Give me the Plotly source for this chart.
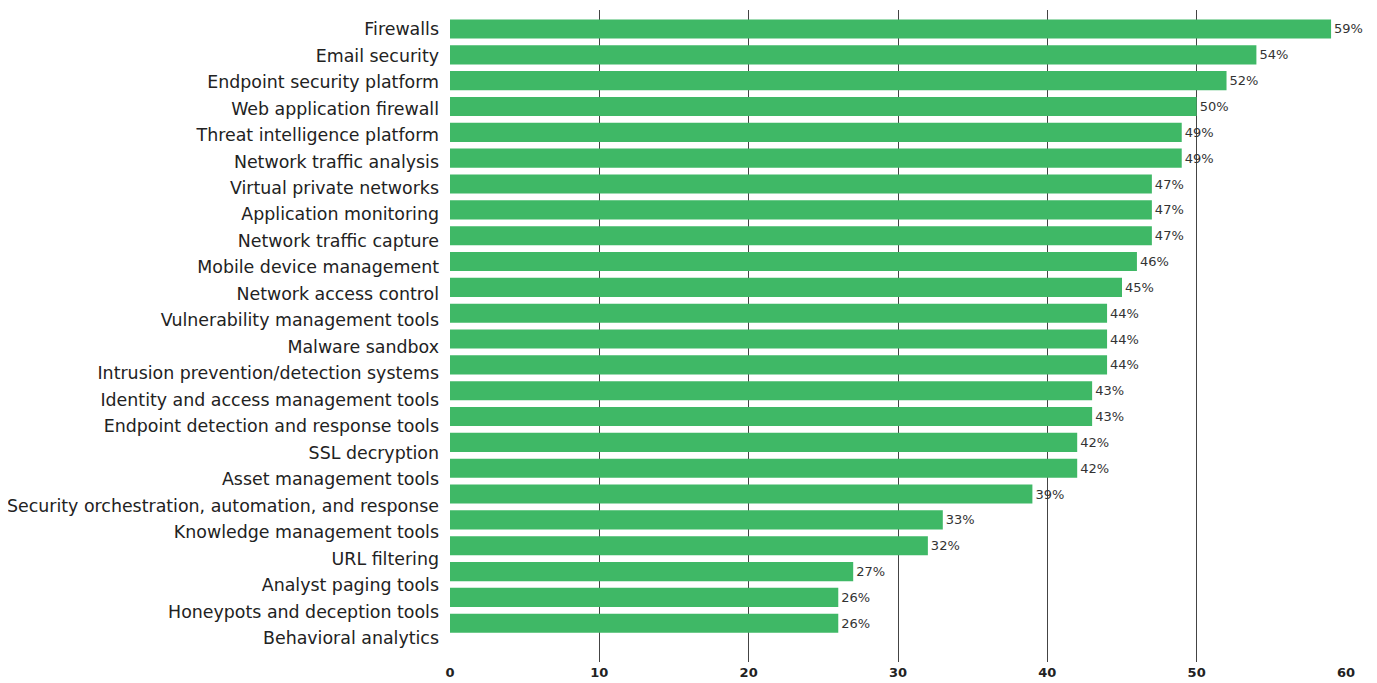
import plotly.graph_objects as go

categories = [
    "Firewalls", "Email security", "Endpoint security platform", "Web application firewall",
    "Threat intelligence platform", "Network traffic analysis", "Virtual private networks",
    "Application monitoring", "Network traffic capture", "Mobile device management",
    "Network access control", "Vulnerability management tools", "Malware sandbox",
    "Intrusion prevention/detection systems", "Identity and access management tools",
    "Endpoint detection and response tools", "SSL decryption", "Asset management tools",
    "Security orchestration, automation, and response", "Knowledge management tools",
    "URL filtering", "Analyst paging tools", "Honeypots and deception tools", "Behavioral analytics",
]
values = [59, 54, 52, 50, 49, 49, 47, 47, 47, 46, 45, 44, 44, 44, 43, 43, 42, 42, 39, 33, 32, 27, 26, 26]
x_ticks = [0, 10, 20, 30, 40, 50, 60]

n = len(categories)
fig = go.Figure()
fig.add_trace(go.Bar(
    x=values, y=list(range(n)), orientation="h",
    marker=dict(color="#3fb866", line=dict(width=0)),
    text=[f"{v}%" for v in values], textposition="outside",
    textfont=dict(family="DejaVu Sans", size=13, color="#333333"),
    cliponaxis=False, hoverinfo="skip", width=0.74,
))
fig.add_trace(go.Scatter(
    x=[0] * n, y=list(range(n)), yaxis="y2", mode="markers",
    marker=dict(opacity=0), hoverinfo="skip", showlegend=False,
))
fig.update_layout(
    width=1369, height=675,
    margin=dict(l=442, r=31, t=2, b=21),
    plot_bgcolor="white", paper_bgcolor="white",
    showlegend=False,
    xaxis=dict(range=[0, 60], tickvals=x_ticks, showgrid=True, gridcolor="#444444", gridwidth=1,
               zeroline=False, showline=False, ticklabelstandoff=1,
               tickfont=dict(family="DejaVu Sans", size=13, color="#222222", weight="bold"),
               automargin=False),
    yaxis=dict(range=[24.5, -0.735], showticklabels=False, showgrid=False, zeroline=False,
               automargin=False),
    yaxis2=dict(overlaying="y", side="left", range=[23.9, -0.717],
                tickvals=list(range(n)), ticktext=categories, showgrid=False, zeroline=False,
                tickfont=dict(family="DejaVu Sans", size=17.4, color="#222222"),
                ticks="", ticklabelstandoff=10, automargin=False),
)
fig.write_html("out.html")
